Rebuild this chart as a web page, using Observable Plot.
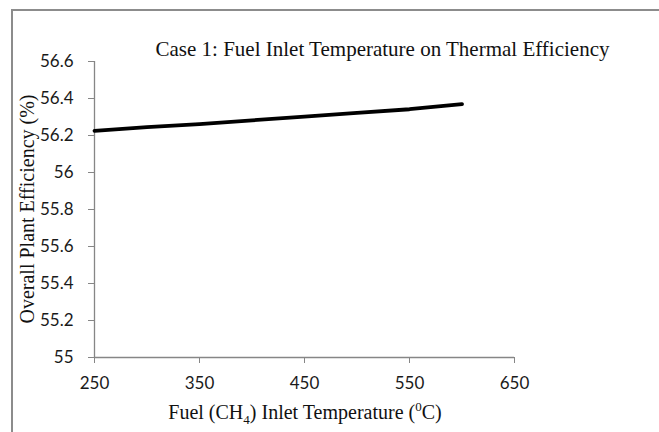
<!DOCTYPE html>
<html>
<head>
<meta charset="utf-8">
<script src="https://cdn.jsdelivr.net/npm/d3@7"></script>
<script src="https://cdn.jsdelivr.net/npm/@observablehq/plot@0.6"></script>
<style>
  html, body { margin: 0; padding: 0; background: #fff; overflow: hidden; }
  #wrap { position: relative; width: 659px; height: 432px; overflow: hidden; }
  #frame { position: absolute; left: 11px; top: 9px; width: 660px; height: 440px; border-left: 2px solid #8c8c8c; border-top: 2px solid #8c8c8c; box-sizing: border-box; pointer-events: none; }
  svg { position: absolute; left: 0; top: 0; }
</style>
</head>
<body>
<div id="wrap"><div id="frame"></div></div>
<script>
const temperatures = [250, 300, 350, 400, 450, 500, 550, 600];
const efficiency = [56.225, 56.245, 56.262, 56.282, 56.302, 56.322, 56.342, 56.37];
const xTicks = [250, 350, 450, 550, 650];
const yTicks = [55, 55.2, 55.4, 55.6, 55.8, 56, 56.2, 56.4, 56.6];
const titleText = "Case 1: Fuel Inlet Temperature on Thermal Efficiency";
const yLabel = "Overall Plant Efficiency (%)";

const data = temperatures.map((t, i) => ({t, e: efficiency[i]}));
const axisColor = "#868686";
const tickFont = "Lato, 'Open Sans', sans-serif";
const serif = "'Liberation Serif', 'Times New Roman', serif";

const chart = Plot.plot({
  width: 659,
  height: 432,
  marginLeft: 94,
  marginRight: 145,
  marginTop: 61,
  marginBottom: 75,
  style: {fontFamily: tickFont, background: "transparent"},
  x: {domain: [250, 650]},
  y: {domain: [55, 56.6]},
  marks: [
    Plot.ruleX([250], {stroke: axisColor, strokeWidth: 1.3}),
    Plot.ruleY([55], {stroke: axisColor, strokeWidth: 1.3}),
    Plot.axisY(yTicks, {
      tickSize: 6, tickPadding: 15, stroke: axisColor, color: "#1a1a1a",
      fontSize: 17, label: null,
      tickFormat: d => String(+d.toFixed(1))
    }),
    Plot.axisX(xTicks, {
      tickSize: 6, tickPadding: 13, stroke: axisColor, color: "#1a1a1a",
      fontSize: 17, label: null
    }),
    Plot.line(data, {x: "t", y: "e", stroke: "black", strokeWidth: 3.8, strokeLinecap: "round"}),
    Plot.text([titleText], {
      frameAnchor: "top-left", dx: 288, dy: -20, text: d => d,
      fontFamily: serif, fontSize: 21, fill: "#111", textAnchor: "middle"
    })
  ]
});

document.getElementById("wrap").appendChild(chart);

const svg = d3.select(chart);
// y-axis label (rotated)
svg.append("text")
  .attr("transform", "translate(34,209) rotate(-90)")
  .attr("text-anchor", "middle")
  .attr("font-family", serif)
  .attr("font-size", 20)
  .attr("fill", "#111")
  .text(yLabel);

// x-axis label with subscript/superscript
const xl = svg.append("text")
  .attr("x", 305).attr("y", 419)
  .attr("text-anchor", "middle")
  .attr("font-family", serif)
  .attr("font-size", 20)
  .attr("fill", "#111");
xl.append("tspan").text("Fuel (CH");
xl.append("tspan").attr("font-size", 13).attr("dy", 5).text("4");
xl.append("tspan").attr("dy", -5).text(") Inlet Temperature (");
xl.append("tspan").attr("font-size", 13).attr("dy", -8).text("0");
xl.append("tspan").attr("dy", 8).text("C)");
</script>
</body>
</html>
